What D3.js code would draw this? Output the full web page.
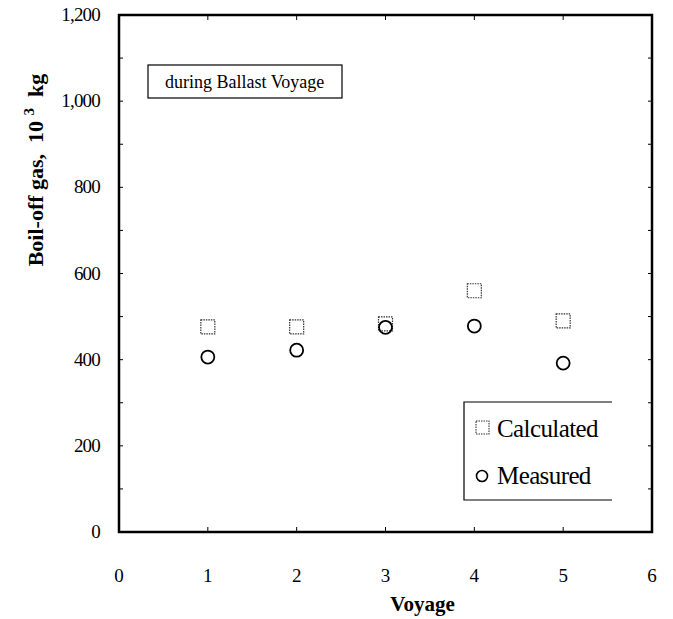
<!DOCTYPE html>
<html>
<head>
<meta charset="utf-8">
<script src="https://cdn.jsdelivr.net/npm/d3@7"></script>
<style>
  body { margin: 0; background: #fff; }
  svg { font-family: "Liberation Serif", "Times New Roman", serif; }
</style>
</head>
<body>
<div id="chart"></div>
<script>
// values
let voyages = [1, 2, 3, 4, 5];
let calculated = [476, 476, 483, 560, 490];
let measured = [406, 422, 475, 478, 392];
let xTicks = [0, 1, 2, 3, 4, 5, 6];
let yTicks = [0, 200, 400, 600, 800, 1000, 1200];
let seriesNames = ["Calculated", "Measured"];

let width = 673, height = 619;
let margin = {top: 15, right: 21, bottom: 87, left: 119};

let svg = d3.select("#chart").append("svg")
    .attr("width", width)
    .attr("height", height);

let x = d3.scaleLinear().domain([0, 6]).range([margin.left, width - margin.right]);
let y = d3.scaleLinear().domain([0, 1200]).range([height - margin.bottom, margin.top]);

let g = svg.append("g");

// ticks inside the frame, on all four sides
let minorY = d3.range(0, 1201, 100);
g.selectAll(".tl").data(minorY).join("line")
    .attr("x1", x(0)).attr("x2", x(0) + 4)
    .attr("y1", d => y(d)).attr("y2", d => y(d))
    .attr("stroke", "#000").attr("stroke-width", 1);
g.selectAll(".tr").data(minorY).join("line")
    .attr("x1", x(6)).attr("x2", x(6) - 4)
    .attr("y1", d => y(d)).attr("y2", d => y(d))
    .attr("stroke", "#000").attr("stroke-width", 1);
g.selectAll(".tb").data(xTicks).join("line")
    .attr("x1", d => x(d)).attr("x2", d => x(d))
    .attr("y1", y(0)).attr("y2", y(0) - 5)
    .attr("stroke", "#000").attr("stroke-width", 1);
g.selectAll(".tt").data(xTicks).join("line")
    .attr("x1", d => x(d)).attr("x2", d => x(d))
    .attr("y1", y(1200)).attr("y2", y(1200) + 5)
    .attr("stroke", "#000").attr("stroke-width", 1);

// frame
g.append("rect")
    .attr("x", x(0)).attr("y", y(1200))
    .attr("width", x(6) - x(0)).attr("height", y(0) - y(1200))
    .attr("fill", "none").attr("stroke", "#000").attr("stroke-width", 2.5);

// tick labels
g.selectAll(".yl").data(yTicks).join("text")
    .attr("x", x(0) - 19).attr("y", d => y(d) + 6)
    .attr("text-anchor", "end")
    .attr("font-size", 19).attr("letter-spacing", -0.8)
    .text(d => d3.format(",")(d));
g.selectAll(".xl").data(xTicks).join("text")
    .attr("x", d => x(d)).attr("y", y(0) + 50)
    .attr("text-anchor", "middle")
    .attr("font-size", 19)
    .text(d => d);

// axis titles
svg.append("text")
    .attr("x", x(3.417)).attr("y", 611)
    .attr("text-anchor", "middle")
    .attr("font-size", 21).attr("font-weight", "bold")
    .text("Voyage");
svg.append("text")
    .attr("transform", `translate(43,170) rotate(-90)`)
    .attr("text-anchor", "middle")
    .attr("font-size", 22).attr("font-weight", "bold")
    .html('Boil-off gas,&#160; 10 <tspan dy="-9" font-size="15">3</tspan><tspan dy="9">&#160; kg</tspan>');

// title box
svg.append("rect")
    .attr("x", 148).attr("y", 65).attr("width", 194).attr("height", 33)
    .attr("fill", "none").attr("stroke", "#000").attr("stroke-width", 1.2);
svg.append("text")
    .attr("x", 165).attr("y", 88)
    .attr("font-size", 18)
    .text("during Ballast Voyage");

// markers
let sq = 14;
g.selectAll(".calc").data(voyages).join("rect")
    .attr("x", (d, i) => x(d) - sq / 2)
    .attr("y", (d, i) => y(calculated[i]) - sq / 2)
    .attr("width", sq).attr("height", sq)
    .attr("fill", "none").attr("stroke", "#333")
    .attr("stroke-width", 1.2).attr("stroke-dasharray", "1.5,1");
g.selectAll(".meas").data(voyages).join("circle")
    .attr("cx", d => x(d))
    .attr("cy", (d, i) => y(measured[i]))
    .attr("r", 6.5)
    .attr("fill", "none").attr("stroke", "#000").attr("stroke-width", 1.8);

// legend (box open on the right, as in the scan)
let lg = svg.append("g");
lg.append("path")
    .attr("d", "M612,402 H464 V500 H612")
    .attr("fill", "none").attr("stroke", "#000").attr("stroke-width", 1.2);
lg.append("rect")
    .attr("x", 476).attr("y", 421).attr("width", 13).attr("height", 13)
    .attr("fill", "none").attr("stroke", "#333")
    .attr("stroke-width", 1.1).attr("stroke-dasharray", "1.5,1");
lg.append("circle")
    .attr("cx", 482).attr("cy", 476).attr("r", 5.5)
    .attr("fill", "none").attr("stroke", "#000").attr("stroke-width", 1.6);
lg.selectAll(".lt").data(seriesNames).join("text")
    .attr("x", 497).attr("y", (d, i) => 437 + i * 47)
    .attr("font-size", 25).attr("letter-spacing", -0.6)
    .text(d => d);
</script>
</body>
</html>
